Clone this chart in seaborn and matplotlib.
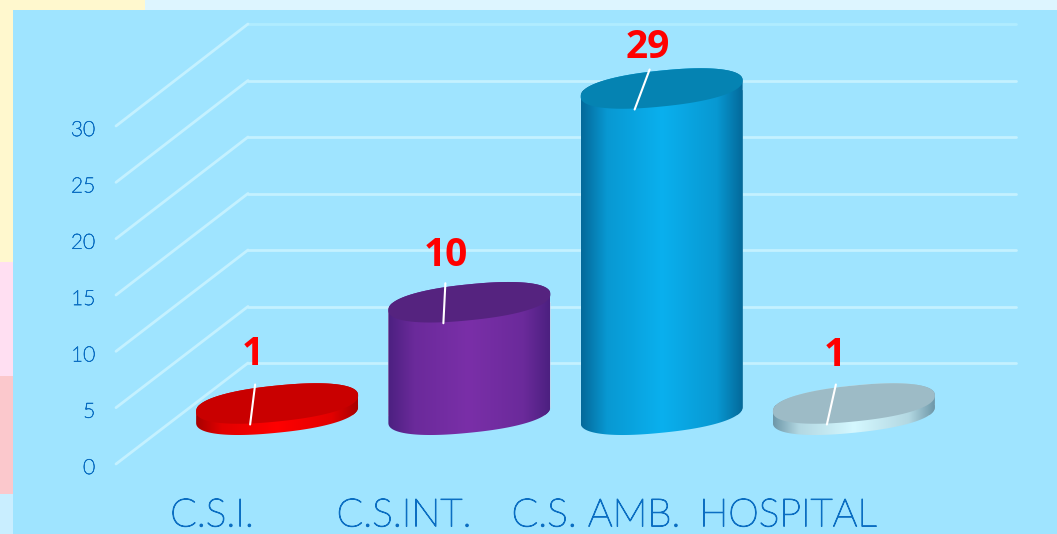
import matplotlib
matplotlib.use("Agg")
import matplotlib.patheffects as pe
import matplotlib.pyplot as plt
import numpy as np
import seaborn as sns
from matplotlib.colors import LinearSegmentedColormap
from matplotlib.patches import ConnectionPatch, Polygon, Rectangle
from matplotlib.transforms import ScaledTranslation

categories = ["C.S.I.", "C.S.INT.", "C.S. AMB.", "HOSPITAL"]
values = [1, 10, 29, 1]
value_ticks = [0, 5, 10, 15, 20, 25, 30]

top_colors = ["#C90000", "#55237F", "#0583B2", "#9DBBC6"]
edge_colors = ["#A80000", "#4C2080", "#04699A", "#6E97A8"]
mid_colors = ["#FF0000", "#7A2FA8", "#0AB0EE", "#D5F8FF"]
leader_dx = [(-27, -22), (-26, -24), (-27, -12), (-27, -18)]
label_off = [(-24, 49), (-24, 47), (-14, 41), (-19, 48)]

W, H = 1057, 534
PANEL = "#9FE4FF"
GRID = "#C4F1FF"
BLUE = "#0B6EC2"

sns.set_style("white")
plt.rcParams["font.family"] = ["Lato", "DejaVu Sans"]


def px_axes(fig, left, right, bottom, top, **kw):
    return fig.add_axes([left / W, 1 - bottom / H, (right - left) / W, (bottom - top) / H], **kw)


fig = plt.figure(figsize=(W / 100, H / 100), dpi=100, facecolor=PANEL)

# pale border left over from the slide behind the chart
for x0, x1, y0, y1, c in [
    (0, 145, 0, 10, "#FFF8CE"),
    (145, W, 0, 10, "#DDF5FF"),
    (0, 13, 0, 262, "#FFF8CE"),
    (0, 13, 262, 376, "#FFDFF2"),
    (0, 13, 376, 494, "#FBC8CC"),
    (0, 13, 494, H, "#C9EEFF"),
]:
    fig.add_artist(Rectangle((x0 / W, 1 - y1 / H), (x1 - x0) / W, (y1 - y0) / H,
                             transform=fig.transFigure, color=c, lw=0))

# back wall, front plane with the tick labels, bars in between
ax_back = px_axes(fig, 248, 1016, 363, 24, facecolor="none", zorder=1)
ax_front = px_axes(fig, 116, 884, 464, 126, facecolor="none", zorder=2)
ax_mid = px_axes(fig, 181, 950, 471, 21, facecolor="none", zorder=3)

for ax in (ax_back, ax_front):
    ax.set_xlim(-0.5, 3.5)
    ax.set_ylim(0, 30)
    sns.despine(ax=ax, left=True, bottom=True)

ax_back.set_xticks([])
ax_back.set_yticks(value_ticks)
ax_back.set_yticklabels([])
ax_back.tick_params(length=0)
ax_back.grid(True, axis="y", color=GRID, lw=2)
for line in ax_back.get_ygridlines():
    line.set_clip_on(False)
ax_back.get_ygridlines()[-1].set_color("#B0ECFF")

ax_front.set_yticks(value_ticks)
ax_front.set_xticks(range(len(categories)))
ax_front.set_xticklabels(categories, fontsize=28, color=BLUE, fontweight="light")
ax_front.tick_params(axis="x", length=0, pad=24)
ax_front.tick_params(axis="y", length=0, pad=15, labelsize=15, labelcolor=BLUE)
nudge = ScaledTranslation(0, -2 / 100, fig.dpi_scale_trans)
for lab in ax_front.get_yticklabels():
    lab.set_fontweight("light")
    lab.set_transform(lab.get_transform() + nudge)
    lab.set_path_effects([pe.withStroke(linewidth=0.5, foreground=BLUE)])
for lab in ax_front.get_xticklabels():
    lab.set_path_effects([pe.withStroke(linewidth=0.8, foreground=BLUE)])

for v in value_ticks:
    ax_back.add_artist(ConnectionPatch((-0.5, v), (-0.5, v), "data", "data",
                                       axesA=ax_front, axesB=ax_back, color=GRID, lw=2))

sns.barplot(x=categories, y=values, hue=categories, palette=edge_colors, legend=False,
            width=162 / 192.25, saturation=1, ax=ax_mid)
ax_mid.set_xlim(-0.5, 3.5)
ax_mid.set_ylim(-5, 35)
ax_mid.axis("off")

sx = 769 / 4
sy = 450 / 40
shear = 8 / sy
semi = 18 / sy
t = np.linspace(0, 2 * np.pi, 400)
# slightly squared-off ellipse, the reference's discs have round shoulders
cos_t = np.sign(np.cos(t)) * np.abs(np.cos(t)) ** 0.88
sin_t = np.sign(np.sin(t)) * np.abs(np.sin(t)) ** 0.88

for i, bar in enumerate(ax_mid.patches[:len(values)]):
    cx = bar.get_x() + bar.get_width() / 2
    a = bar.get_width() / 2
    h = bar.get_height()
    ex = cx + a * cos_t
    ey = shear * cos_t + semi * sin_t

    # outline of the cylinder: lower half of base, upper half of top
    lower = t >= np.pi
    upper = t <= np.pi
    outline = np.vstack([
        np.column_stack([ex[lower], ey[lower]]),
        np.column_stack([ex[upper], ey[upper] + h]),
    ])
    body = Polygon(outline, closed=True, transform=ax_mid.transData, fc="none", ec="none")
    ax_mid.add_patch(body)
    bar.set_clip_path(body)

    soft = sns.blend_palette([edge_colors[i], mid_colors[i]], 4)[2]
    cmap = LinearSegmentedColormap.from_list(
        "side", [(0, edge_colors[i]), (0.16, soft), (0.5, mid_colors[i]), (0.84, soft), (1, edge_colors[i])]
    )
    im = ax_mid.imshow(np.linspace(0, 1, 256).reshape(1, -1), cmap=cmap, aspect="auto",
                       extent=(cx - a, cx + a, -semi * 2, h + semi * 2), zorder=3)
    im.set_clip_path(body)

    ax_mid.add_patch(Polygon(np.column_stack([ex, ey + h]), closed=True,
                             fc=top_colors[i], ec="none", zorder=4))

    d0, d1 = leader_dx[i]
    ax_mid.plot([cx + d0 / sx, cx + d1 / sx], [h - 21 / sy, h + 19 / sy],
                color="white", lw=1.5, zorder=5)
    ax_mid.text(cx + label_off[i][0] / sx, h + label_off[i][1] / sy, str(values[i]),
                color="#FF0000", fontsize=28, fontweight="bold", family="Open Sans",
                ha="center", va="center", zorder=6)

ax_mid.set_xlim(-0.5, 3.5)
ax_mid.set_ylim(-5, 35)

fig.savefig("out.png", dpi=100, facecolor=fig.get_facecolor())
